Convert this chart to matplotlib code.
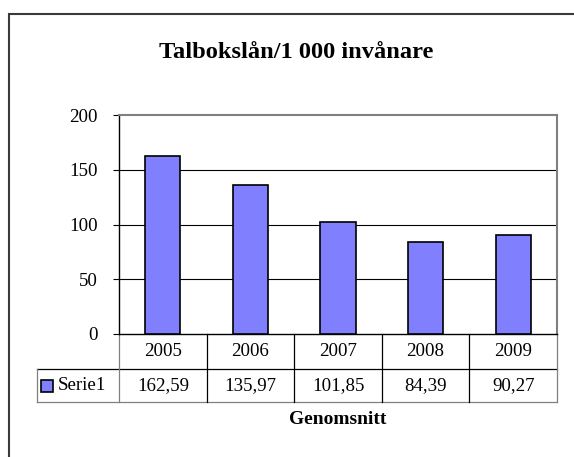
import matplotlib
matplotlib.use("Agg")
import matplotlib.pyplot as plt
from matplotlib.patches import Rectangle
from matplotlib.transforms import blended_transform_factory

# data
years = ['2005', '2006', '2007', '2008', '2009']
values = [162.59, 135.97, 101.85, 84.39, 90.27]
value_labels = ['162,59', '135,97', '101,85', '84,39', '90,27']
series_name = 'Serie1'
title = 'Talbokslån/1 000 invånare'
xlabel = 'Genomsnitt'
yticks = [0, 50, 100, 150, 200]

W, H = 574, 457
bar_color = '#8080FF'
grey = '#808080'
fs = 13.6

plt.rcParams['font.family'] = ['Liberation Serif', 'DejaVu Serif']

fig = plt.figure(figsize=(W / 100, H / 100), dpi=100)


def px(x, y):
    # pixel (from top-left) -> figure fraction
    return x / W, 1 - y / H


# outer chart border (runs off the right and bottom edges)
x0, y0 = px(9, 14)
fig.patches.append(Rectangle((x0, -0.1), 1.2, y0 + 0.1, transform=fig.transFigure,
                             fill=False, edgecolor='#3a3a3a', lw=1.5))

ax_l, ax_t, ax_r, ax_b = 119, 115, 557, 334
ax = fig.add_axes([ax_l / W, 1 - ax_b / H, (ax_r - ax_l) / W, (ax_b - ax_t) / H])

xs = range(len(years))
ax.bar(xs, values, width=0.4, color=bar_color, edgecolor='black', linewidth=1.2, zorder=3)
ax.set_xlim(-0.5, len(years) - 0.5)
ax.set_ylim(0, 200)
ax.set_yticks(yticks)
ax.set_yticklabels([str(t) for t in yticks], fontsize=fs)
ax.set_xticks([])
ax.tick_params(axis='y', direction='out', length=4.5, width=0.8, pad=11, colors='black')
for t in yticks[1:-1]:
    ax.axhline(t, color='black', lw=0.8, zorder=1)
ax.spines['left'].set_color('black')
ax.spines['bottom'].set_color('black')
ax.spines['left'].set_linewidth(1.0)
ax.spines['bottom'].set_linewidth(1.0)
ax.spines['top'].set_color(grey)
ax.spines['right'].set_color(grey)
ax.spines['top'].set_linewidth(1.5)
ax.spines['right'].set_linewidth(1.5)

fig.text(296 / W, px(0, 53)[1], title, ha='center', va='center',
         fontsize=17.6, fontweight='bold')

# data table below the plot area
ph = ax_b - ax_t
r1 = -(369 - ax_b) / ph
r2 = -(402 - ax_b) / ph
leg_l = -(ax_l - 37) / (ax_r - ax_l)
tr = blended_transform_factory(ax.transData, ax.transAxes)

line_kw = dict(transform=ax.transAxes, clip_on=False, lw=0.9)
# horizontal lines
ax.plot([0, 1], [r1, r1], color='black', **line_kw)
ax.plot([leg_l, 0], [r1, r1], color='black', **line_kw)
ax.plot([leg_l, 1], [r2, r2], color=grey, **line_kw)
# outer verticals
ax.plot([0, 0], [0, r2], color=grey, **line_kw)
ax.plot([1, 1], [0, r2], color=grey, **line_kw)
ax.plot([leg_l, leg_l], [r1, r2], color=grey, **line_kw)
# inner verticals between categories
for i in range(1, len(years)):
    ax.plot([i - 0.5, i - 0.5], [0, r2], color='black', lw=0.9,
            transform=tr, clip_on=False)

for i, (yr, lab) in enumerate(zip(years, value_labels)):
    ax.text(i, r1 / 2, yr, transform=tr, ha='center', va='center', fontsize=fs)
    ax.text(i, (r1 + r2) / 2, lab, transform=tr, ha='center', va='center', fontsize=fs)

# legend key inside the row header
key_w = 12 / (ax_r - ax_l)
key_h = 12 / ph
kx = -(ax_l - 41) / (ax_r - ax_l)
ky = (r1 + r2) / 2 - key_h / 2
ax.add_patch(Rectangle((kx, ky), key_w, key_h, transform=ax.transAxes, clip_on=False,
                       facecolor=bar_color, edgecolor='black', lw=1.2))
ax.text(-(ax_l - 58) / (ax_r - ax_l), (r1 + r2) / 2, series_name, transform=ax.transAxes,
        ha='left', va='center', fontsize=fs)

fig.text((ax_l + ax_r) / 2 / W, px(0, 420)[1], xlabel, ha='center', va='center',
         fontsize=14, fontweight='bold')

fig.savefig('out.png', dpi=100)
